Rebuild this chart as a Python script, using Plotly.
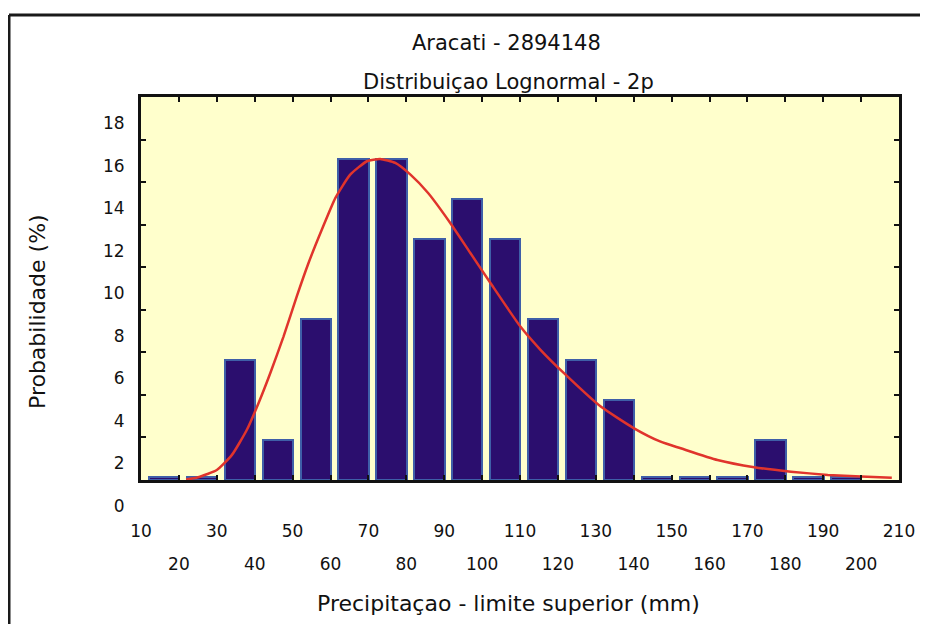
import plotly.graph_objects as go

# Histogram bins (centre of each 10 mm class) and observed frequency (%)
bin_centers = [15, 25, 35, 45, 55, 65, 75, 85, 95, 105, 115, 125, 135, 145, 155, 165, 175, 185, 195]
freq_pct = [0.12, 0.12, 5.66, 1.89, 7.55, 15.09, 15.09, 11.32, 13.21, 11.32, 7.55, 5.66, 3.77,
            0.12, 0.12, 0.12, 1.89, 0.12, 0.12]

# Fitted lognormal (2p) curve
curve_x = [21.9, 25.1, 30.0, 34.0, 37.9, 41.0, 44.1, 47.6, 51.1, 54.2, 57.7, 61.3, 65.2, 69.6,
           73.1, 77.1, 81.1, 85.7, 91.6, 96.9, 102.2, 110.1, 115.4, 121.6, 131.3, 140.1, 147.1,
           152.4, 162.1, 171.8, 181.5, 191.2, 200.0, 208.1]
curve_y = [0.02, 0.13, 0.47, 1.18, 2.35, 3.61, 5.02, 6.74, 8.63, 10.2, 11.76, 13.26, 14.35, 14.98,
           15.09, 14.9, 14.35, 13.5, 12.08, 10.67, 9.26, 7.21, 6.12, 5.02, 3.45, 2.43, 1.80,
           1.49, 0.94, 0.60, 0.39, 0.24, 0.16, 0.11]

x_tick_vals = [10, 20, 30, 40, 50, 60, 70, 80, 90, 100, 110, 120, 130, 140, 150, 160, 170, 180, 190, 200, 210]
x_ticks_row1 = [10, 30, 50, 70, 90, 110, 130, 150, 170, 190, 210]
x_ticks_row2 = [20, 40, 60, 80, 100, 120, 140, 160, 180, 200]
y_tick_vals = [0, 2, 4, 6, 8, 10, 12, 14, 16, 18]

title1 = "Aracati - 2894148"
title2 = "Distribuiçao Lognormal - 2p"
x_title = "Precipitaçao - limite superior (mm)"
y_title = "Probabilidade (%)"

FONT = "DejaVu Sans"
INK = "#111111"

row1_text = [str(v) if v in x_ticks_row1 else "" for v in x_tick_vals]

fig = go.Figure()
fig.add_trace(go.Bar(
    x=bin_centers, y=freq_pct, width=8.0, offset=-2.9,
    marker=dict(color="#2B0E6E", line=dict(color="#3F5FA8", width=2)),
    showlegend=False,
))
fig.add_trace(go.Scatter(
    x=curve_x, y=curve_y, mode="lines",
    line=dict(color="#E0342C", width=2.5, shape="spline", smoothing=0.5),
    showlegend=False,
))
# empty trace to anchor the second (label-only) x axis
fig.add_trace(go.Scatter(x=[None], y=[None], xaxis="x2", mode="lines",
                         showlegend=False, hoverinfo="skip"))

# the page body adds an 8 px offset; figure is sized so the plot lands where the reference has it
fig.update_layout(
    width=920, height=616,
    margin=dict(l=133, r=29, t=89, b=144),
    paper_bgcolor="white", plot_bgcolor="#FFFFCC",
    font=dict(family=FONT, size=18, color=INK),
    bargap=0,
    xaxis=dict(
        range=[10, 210], tickmode="array", tickvals=x_tick_vals, ticktext=row1_text,
        ticks="inside", ticklen=5, tickwidth=2, tickcolor=INK,
        showline=True, linewidth=3, linecolor=INK, mirror="ticks",
        showgrid=False, zeroline=False, ticklabelstandoff=34,
        tickfont=dict(family=FONT, size=17),
    ),
    xaxis2=dict(
        range=[10, 210], overlaying="x", anchor="y", side="bottom",
        tickmode="array", tickvals=x_ticks_row2, ticks="",
        showline=False, showgrid=False, zeroline=False, ticklabelstandoff=72,
        tickfont=dict(family=FONT, size=17),
    ),
    yaxis=dict(
        range=[0, 18], tickmode="array", tickvals=y_tick_vals,
        ticks="inside", ticklen=5, tickwidth=2, tickcolor=INK,
        showline=True, linewidth=3, linecolor=INK, mirror="ticks",
        showgrid=False, zeroline=False, ticklabelshift=26, ticklabelstandoff=10,
        tickfont=dict(family=FONT, size=17),
    ),
)

annotations = [
    dict(text=title1, x=(506 - 141) / 758, y=(480 - 43) / 383, size=21),
    dict(text=title2, x=(508 - 141) / 758, y=(480 - 82) / 383, size=21),
    dict(text=x_title, x=(508 - 141) / 758, y=(480 - 603) / 383, size=22),
    dict(text=y_title, x=(37 - 141) / 758, y=(480 - 312) / 383, size=22, textangle=-90),
]
for a in annotations:
    size = a.pop("size")
    fig.add_annotation(xref="paper", yref="paper", showarrow=False,
                       xanchor="center", yanchor="middle",
                       font=dict(family=FONT, size=size, color=INK), **a)

# outer frame (top and left edges)
top_y = (480 - 15) / 383
left_x = (9 - 141) / 758
fig.add_shape(type="line", xref="paper", yref="paper", x0=left_x, x1=(935 - 141) / 758,
              y0=top_y, y1=top_y, line=dict(color="#1A1A1A", width=3))
fig.add_shape(type="line", xref="paper", yref="paper", x0=left_x, x1=left_x,
              y0=top_y, y1=(480 - 640) / 383, line=dict(color="#1A1A1A", width=3))

fig.write_html("out.html")
